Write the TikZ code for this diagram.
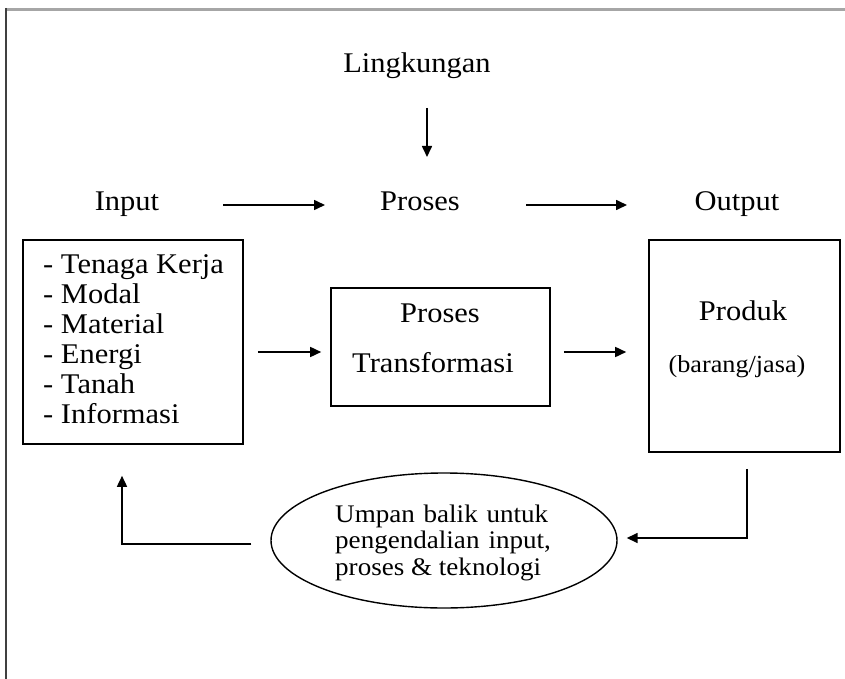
\documentclass[tikz,border=0pt]{standalone}
\usepackage{fontspec}
\setmainfont{Liberation Serif}[FakeStretch=1.07]
\usetikzlibrary{arrows.meta,shapes.geometric}
\begin{document}
\begin{tikzpicture}[x=1pt,y=-1pt,
  txt/.style={inner sep=0pt,anchor=base,font=\fontsize{28.5}{30}\selectfont},
  boxc/.style={draw,line width=1.6pt,inner sep=0pt},
  arr/.style={line width=1.6pt,-{Triangle[length=11pt,width=10pt]}},
  lnk/.style={line width=1.6pt}]
\useasboundingbox (0,0) rectangle (845,679);
% page frame
\draw[gray!70,line width=3pt] (6,9.5) -- (845,9.5);
\draw[black!75,line width=1.8pt] (6,8) -- (6,679);

% headers
\node[txt] (ling) at (417,73) {Lingkungan};
\node[txt] (inlbl) at (127,210) {Input};
\node[txt] (proslbl) at (420,210) {Proses};
\node[txt] (outlbl) at (737,210) {Output};
\coordinate (lx) at (427,0);
\coordinate (ay) at (0,205);
\coordinate (by) at (0,352);

% boxes
\node[boxc,minimum width=220pt,minimum height=204pt] (inbox) at (133,342) {};
\node[boxc,minimum width=219pt,minimum height=118pt] (prbox) at (440.5,347) {};
\node[boxc,minimum width=191pt,minimum height=212pt] (prod) at (744.5,346) {};
\node[draw,ellipse,line width=1.4pt,minimum width=346pt,minimum height=135pt,inner sep=0pt] (fb) at (444,540.5) {};

% box contents (base anchor = baseline of the last line)
\node[txt,anchor=base west,align=left] (inlist) at (43,423) {- Tenaga Kerja\\- Modal\\- Material\\- Energi\\- Tanah\\- Informasi};
\node[txt] (pr1) at (440,322) {Proses};
\node[txt] (pr2) at (433,372) {Transformasi};
\node[txt] (pd1) at (743,320) {Produk};
\node[txt,font=\fontsize{24.5}{30}\selectfont] (pd2) at (737,372) {(barang/jasa)};
\node[txt,anchor=base west,align=left,font=\fontsize{25.3}{26.5}\selectfont] (fbtxt) at (335,575)
  {\makebox[213pt][s]{Umpan balik untuk}\\
   \makebox[213pt][s]{pengendalian\ \ input,}\\
   proses \& teknologi};

% flows
\draw[arr,shorten <=35pt,shorten >=53pt] (ling.base -| lx) -- (proslbl.base -| lx);
\draw[arr,shorten <=96pt,shorten >=95pt] (inlbl.base |- ay) -- (proslbl.base |- ay);
\draw[arr,shorten <=106pt,shorten >=110pt] (proslbl.base |- ay) -- (outlbl.base |- ay);
\draw[arr,shorten <=14pt,shorten >=9pt] (inbox.east |- by) -- (prbox.west |- by);
\draw[arr,shorten <=13pt,shorten >=22pt] (prbox.east |- by) -- (prod.west |- by);

% feedback loop
\draw[arr] ([xshift=2.5pt,yshift=-16pt]prod.south) |- ([xshift=9pt,yshift=2.5pt]fb.east);
\draw[arr] ([xshift=-19pt,yshift=-3.5pt]fb.west) -| ([xshift=-11pt,yshift=-31pt]inbox.south);
\end{tikzpicture}
\end{document}
